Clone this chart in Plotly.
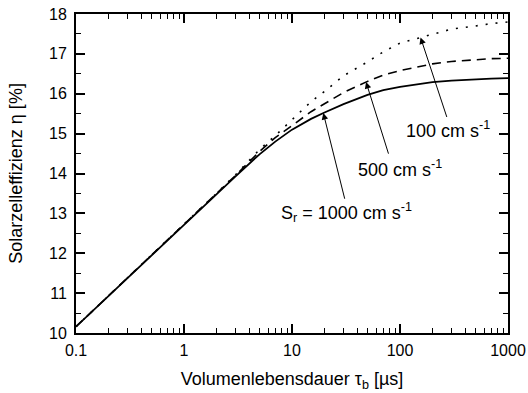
import numpy as np
import plotly.graph_objects as go

# Volumenlebensdauer tau_b [us]
tau = [0.1, 0.2, 0.5, 1, 2, 3, 5, 7, 10, 15, 20, 30, 50, 70, 100, 150, 200, 300, 500, 700, 1000]
# Solarzelleffizienz eta [%] for different rear surface recombination velocities
eta_1000 = [10.16, 10.93, 11.95, 12.72, 13.49, 13.93, 14.48, 14.80, 15.10, 15.37, 15.53, 15.74, 15.97, 16.09, 16.17,
            16.25, 16.29, 16.33, 16.37, 16.38, 16.39]
eta_500 = [10.16, 10.93, 11.95, 12.72, 13.50, 13.95, 14.55, 14.90, 15.20, 15.55, 15.75, 16.03, 16.31, 16.47, 16.58,
           16.69, 16.75, 16.81, 16.86, 16.88, 16.89]
eta_100 = [10.16, 10.93, 11.95, 12.72, 13.50, 13.97, 14.60, 14.95, 15.35, 15.80, 16.06, 16.45, 16.80, 17.05, 17.27,
           17.40, 17.50, 17.62, 17.70, 17.76, 17.80]

x_tickvals = [0.1, 1, 10, 100, 1000]
x_ticktext = ["0.1", "1", "10", "100", "1000"]
x_minorvals = [m * d for d in [0.1, 1, 10, 100] for m in range(2, 10)]
y_tickvals = [10, 11, 12, 13, 14, 15, 16, 17, 18]
y_minorvals = [10.5, 11.5, 12.5, 13.5, 14.5, 15.5, 16.5, 17.5]

labels = ["100 cm s<sup>-1</sup>", "500 cm s<sup>-1</sup>", "S<sub>r</sub> = 1000 cm s<sup>-1</sup>"]
arrow_tip_tau = [155, 48.5, 19.5]
arrow_tail = [(274, 15.38), (79, 14.46), (31, 13.33)]
label_pos = [(278, 15.10), (99, 14.12), (32, 13.02)]

FONT = "Arial, Liberation Sans, sans-serif"

fig = go.Figure()
fig.add_trace(go.Scatter(x=tau, y=eta_100, mode="lines", line=dict(color="black", width=1.6, dash="2px,8px")))
fig.add_trace(go.Scatter(x=tau, y=eta_500, mode="lines", line=dict(color="black", width=1.6, dash="9px,6px")))
fig.add_trace(go.Scatter(x=tau, y=eta_1000, mode="lines", line=dict(color="black", width=1.8)))

ltau = np.log10(tau)
series = [eta_100, eta_500, eta_1000]
for i in range(3):
    tip_x = np.log10(arrow_tip_tau[i])
    tip_y = float(np.interp(tip_x, ltau, series[i]))
    fig.add_annotation(x=tip_x, y=tip_y, ax=np.log10(arrow_tail[i][0]), ay=arrow_tail[i][1],
                       xref="x", yref="y", axref="x", ayref="y", text="", showarrow=True,
                       arrowhead=2, arrowsize=1.3, arrowwidth=1, arrowcolor="black")
    fig.add_annotation(x=np.log10(label_pos[i][0]), y=label_pos[i][1], xref="x", yref="y",
                       text=labels[i], showarrow=False, font=dict(family=FONT, size=18, color="black"))

tickfont = dict(family=FONT, size=16, color="black")
common = dict(showline=True, linecolor="black", linewidth=2, mirror="allticks", ticks="inside",
              tickcolor="black", tickwidth=2, ticklen=9, showgrid=False, zeroline=False, automargin=False)

fig.update_layout(
    width=528, height=393, margin=dict(l=76, r=20, t=14, b=60),
    paper_bgcolor="white", plot_bgcolor="white", showlegend=False,
    font=dict(family=FONT, size=16, color="black"),
    xaxis=dict(type="log", range=[-1, 3], tickmode="array", tickvals=x_tickvals, ticktext=x_ticktext,
               tickfont=tickfont, ticklabelstandoff=2,
               minor=dict(ticks="inside", ticklen=5, tickwidth=1, tickcolor="black",
                          tickmode="array", tickvals=x_minorvals, showgrid=False),
               title=dict(text="Volumenlebensdauer τ<sub>b</sub> [µs]",
                          font=dict(family=FONT, size=18, color="black"), standoff=14),
               **common),
    yaxis=dict(range=[10, 18], tickmode="array", tickvals=y_tickvals,
               tickfont=tickfont, ticklabelstandoff=4,
               minor=dict(ticks="inside", ticklen=5, tickwidth=1, tickcolor="black",
                          tickmode="array", tickvals=y_minorvals, showgrid=False),
               title=dict(text="Solarzelleffizienz η [%]",
                          font=dict(family=FONT, size=18, color="black"), standoff=22),
               **common),
)

fig.write_html("out.html")
